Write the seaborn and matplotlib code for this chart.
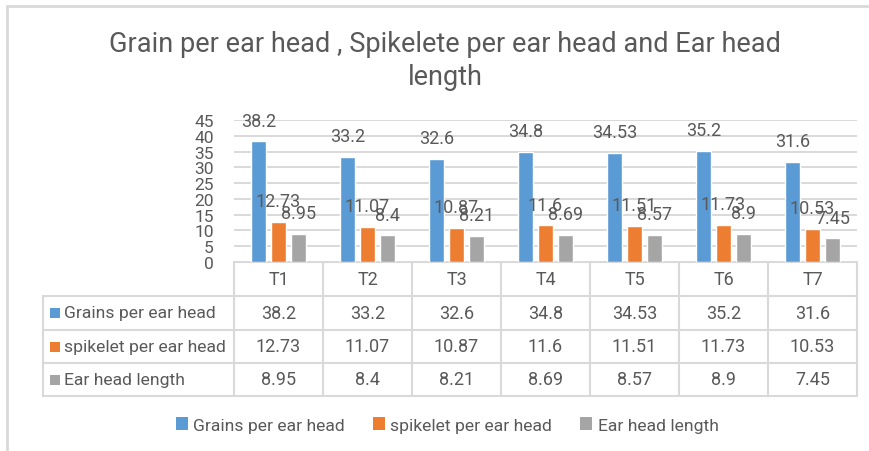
import pandas as pd
import matplotlib
matplotlib.use("Agg")
import matplotlib.pyplot as plt
from matplotlib.patches import Patch, Rectangle
import seaborn as sns

# dati
treatments = ["T1", "T2", "T3", "T4", "T5", "T6", "T7"]
series_names = ["Grains per ear head", "spikelet per ear head", "Ear head length"]
grains = [38.2, 33.2, 32.6, 34.8, 34.53, 35.2, 31.6]
spikelet = [12.73, 11.07, 10.87, 11.6, 11.51, 11.73, 10.53]
ear_length = [8.95, 8.4, 8.21, 8.69, 8.57, 8.9, 7.45]
yticks = [0, 5, 10, 15, 20, 25, 30, 35, 40, 45]
colors = ["#5b9bd5", "#ed7d31", "#a5a5a5"]

values = [grains, spikelet, ear_length]
df = pd.DataFrame({
    "treatment": treatments * 3,
    "series": [s for s in series_names for _ in treatments],
    "value": grains + spikelet + ear_length,
})

sns.set_style("white")
plt.rcParams["font.family"] = ["Roboto", "DejaVu Sans"]
txt = "#595959"
line_c = "#d9d9d9"

W, H = 869, 452
fig = plt.figure(figsize=(W / 100, H / 100), dpi=100)

def fx(px):
    return px / W

def fy(py):
    return 1 - py / H

# area del grafico a barre
x0, x1, ytop, ybot = 234, 857, 121, 263
ax = fig.add_axes([fx(x0), fy(ybot), fx(x1) - fx(x0), fy(ytop) - fy(ybot)])
sns.barplot(data=df, x="treatment", y="value", hue="series", palette=colors,
            width=0.674, gap=0.25, ax=ax, legend=False, saturation=1)
ax.set_xlim(-0.5, len(treatments) - 0.5)
ax.set_ylim(0, 45)
ax.set_yticks(yticks)
ax.set_yticklabels([str(t) for t in yticks], fontsize=12.5, color=txt)
ax.tick_params(axis="y", length=0, pad=14.5)
ax.set_xticks([])
ax.set_xlabel("")
ax.set_ylabel("")
ax.grid(axis="y", color=line_c, lw=1.4)
ax.set_axisbelow(True)
for s in ax.spines.values():
    s.set_visible(False)

# etichette dei valori
for cont, vals in zip(ax.containers, values):
    for bar, v in zip(cont, vals):
        ax.annotate(f"{v:g}", xy=(bar.get_x() + bar.get_width() / 2, v),
                    xytext=(0, 15), textcoords="offset points",
                    ha="center", va="center", fontsize=13, color=txt)

# tabella dati sotto al grafico
tab = fig.add_axes([0, 0, 1, 1], zorder=-1)
tab.set_xlim(0, W)
tab.set_ylim(H, 0)
tab.axis("off")

col_edges = [ax.transData.transform((i - 0.5, 0))[0] for i in range(len(treatments) + 1)]
row_edges = [263, 297, 331, 364, 397]
left_edge = 43

tab.plot([col_edges[0], col_edges[-1]], [row_edges[0]] * 2, color=line_c, lw=1.5)
for ry in row_edges[1:]:
    tab.plot([left_edge, col_edges[-1]], [ry, ry], color=line_c, lw=1.5)
for cx in col_edges:
    tab.plot([cx, cx], [row_edges[0], row_edges[-1]], color=line_c, lw=1.5)
tab.plot([left_edge, left_edge], [row_edges[1], row_edges[-1]], color=line_c, lw=1.5)

for i, t in enumerate(treatments):
    cx = (col_edges[i] + col_edges[i + 1]) / 2
    tab.text(cx, (row_edges[0] + row_edges[1]) / 2, t, ha="center", va="center",
             fontsize=13, color=txt)

for r, (name, vals, c) in enumerate(zip(series_names, values, colors)):
    cy = (row_edges[r + 1] + row_edges[r + 2]) / 2
    tab.add_patch(Rectangle((50, cy - 5), 10, 10, color=c, lw=0))
    tab.text(64, cy, name, ha="left", va="center", fontsize=12.6, color=txt)
    for i, v in enumerate(vals):
        cx = (col_edges[i] + col_edges[i + 1]) / 2
        tab.text(cx, cy, f"{v:g}", ha="center", va="center", fontsize=13, color=txt)

# cornice
tab.plot([7, W], [7, 7], color=line_c, lw=2)
tab.plot([7, 7], [7, H], color=line_c, lw=2)

# titolo
fig.text(fx(445), fy(61), "Grain per ear head , Spikelete per ear head and Ear head\nlength",
         ha="center", va="center", fontsize=19.5, color=txt, linespacing=1.25)

# legenda
handles = [Patch(facecolor=c, edgecolor="none") for c in colors]
fig.legend(handles, series_names, loc="center", bbox_to_anchor=(fx(447), fy(426)),
           ncol=3, frameon=False, fontsize=12.6, labelcolor=txt,
           handlelength=0.7, handleheight=0.7, handletextpad=0.3, columnspacing=1.6)

fig.savefig("out.png", dpi=100)
